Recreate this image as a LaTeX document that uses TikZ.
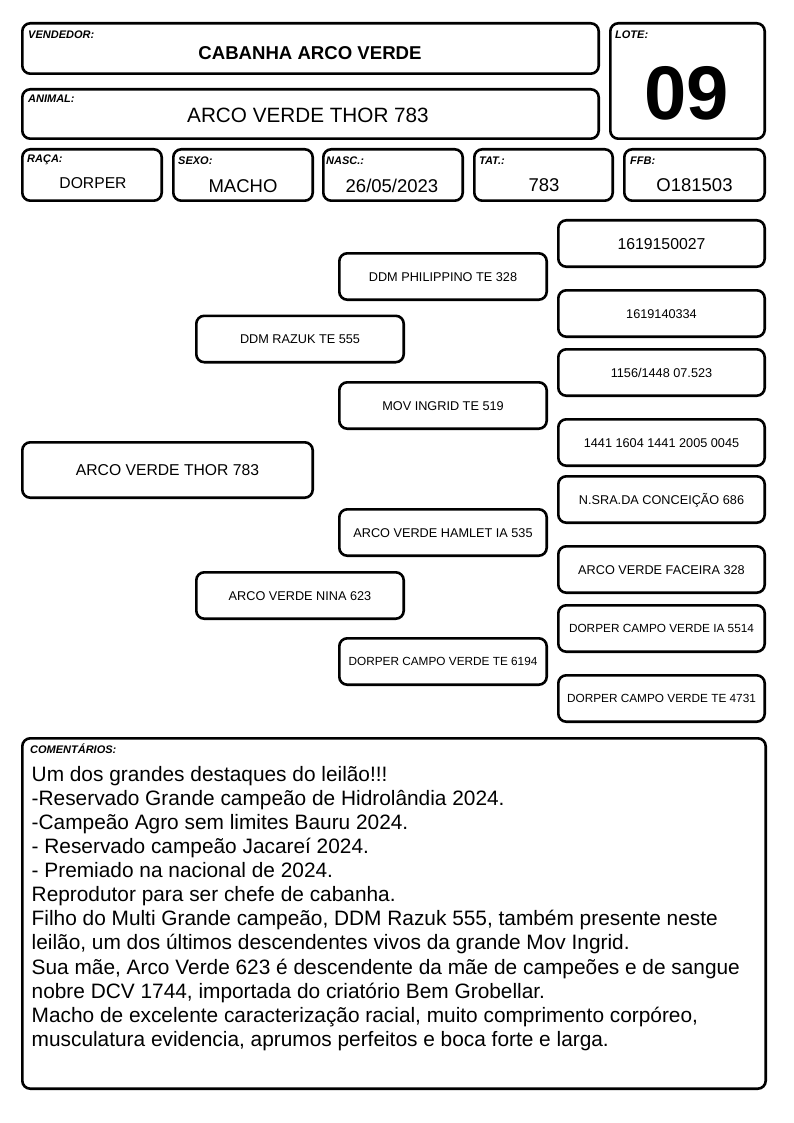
\documentclass[tikz,border=0pt]{standalone}
\usepackage{fontspec}
\setmainfont{Liberation Sans}
\newcommand\myfs[1]{\fontsize{#1}{#1}\selectfont}
\begin{document}
\begin{tikzpicture}[x=1pt,y=-1pt,
  box/.style={draw, line width=2.6pt, rounded corners=8pt, inner sep=0pt},
  lbl/.style={anchor=base west, inner sep=0pt, font=\myfs{11}\bfseries\itshape},
  val/.style={anchor=base, inner sep=0pt, font=\myfs{18.5}},
  pnode/.style={box, minimum width=207.4pt, minimum height=46.4pt, font=\myfs{12.7}, text height=9.1pt, text depth=0pt},
  pbig/.style={pnode, font=\myfs{15.8}, text height=11.3pt},
  psmall/.style={pnode, font=\myfs{11.8}, text height=8.45pt}
]
\useasboundingbox[fill=white] (0,0) rectangle (794,1123);

% header boxes
\node[box, minimum width=576.4pt, minimum height=50.4pt] (vend) at (310.5,48.5) {};
\node[box, minimum width=576.4pt, minimum height=49.4pt] (anim) at (310.5,114) {};
\node[box, minimum width=154.4pt, minimum height=115.4pt] (lote) at (687.5,81) {};
\node[box, minimum width=139.4pt, minimum height=51.4pt] (raca) at (92,175) {};
\node[box, minimum width=139.4pt, minimum height=51.4pt] (sexo) at (243,175) {};
\node[box, minimum width=139.4pt, minimum height=51.4pt] (nasc) at (393,175) {};
\node[box, minimum width=138.4pt, minimum height=51.4pt] (tat) at (543.5,175) {};
\node[box, minimum width=140.4pt, minimum height=51.4pt] (ffb) at (694.5,175) {};

% labels
\node[lbl] (lvend) at (28,39) {VENDEDOR:};
\node[lbl] (lanim) at (28,103) {ANIMAL:};
\node[lbl] (llote) at (615,39) {LOTE:};
\node[lbl] (lraca) at (27,163) {RAÇA:};
\node[lbl] (lsexo) at (178,165) {SEXO:};
\node[lbl] (lnasc) at (326,165) {NASC.:};
\node[lbl] (ltat) at (479,165) {TAT.:};
\node[lbl] (lffb) at (630,165) {FFB:};

% values
\node[anchor=base, inner sep=0pt, font=\myfs{18.6}\bfseries] (vvend) at (310,60) {CABANHA ARCO VERDE};
\node[anchor=base, inner sep=0pt, font=\myfs{20.7}] (vanim) at (308,123) {ARCO VERDE THOR 783};
\node[anchor=base, inner sep=0pt, font=\myfs{76}\bfseries] (vlote) at (687,119.5) {09};
\node[val, font=\myfs{15.7}] (vraca) at (93,188.5) {DORPER};
\node[val] (vsexo) at (243,192.5) {MACHO};
\node[val] (vnasc) at (392,193) {26/05/2023};
\node[val] (vtat) at (544,192) {783};
\node[val] (vffb) at (694.5,192) {O181503};

% pedigree
\node[pnode, minimum width=290.4pt, minimum height=55.4pt, font=\myfs{15.7}, text height=11.2pt] (main) at (167.5,470) {ARCO VERDE THOR 783};
\node[pnode] (sire) at (300,339) {DDM RAZUK TE 555};
\node[pnode] (dam) at (300,595.5) {ARCO VERDE NINA 623};
\node[pnode] (ss) at (443,276.5) {DDM PHILIPPINO TE 328};
\node[pnode] (sd) at (443,405.5) {MOV INGRID TE 519};
\node[pnode] (ds) at (443,532.5) {ARCO VERDE HAMLET IA 535};
\node[psmall] (dd) at (443,661.5) {DORPER CAMPO VERDE TE 6194};
\node[pbig, minimum width=206.4pt] (sss) at (661.5,243.5) {1619150027};
\node[pnode, minimum width=206.4pt] (ssd) at (661.5,313.5) {1619140334};
\node[pnode, minimum width=206.4pt] (sds) at (661.5,372.5) {1156/1448 07.523};
\node[pnode, minimum width=206.4pt] (sdd) at (661.5,442.5) {1441 1604 1441 2005 0045};
\node[pnode, minimum width=206.4pt] (dss) at (661.5,499.5) {N.SRA.DA CONCEIÇÃO 686};
\node[pnode, minimum width=206.4pt] (dsd) at (661.5,569.5) {ARCO VERDE FACEIRA 328};
\node[psmall, minimum width=206.4pt] (dds) at (661.5,628.5) {DORPER CAMPO VERDE IA 5514};
\node[psmall, minimum width=206.4pt] (ddd) at (661.5,698.5) {DORPER CAMPO VERDE TE 4731};

% comments
\node[box, minimum width=743.4pt, minimum height=350.4pt] (com) at (394,913.5) {};
\node[lbl] (lcom) at (30,753) {COMENTÁRIOS:};
\node[anchor=north west, inner sep=0pt, align=left, font=\fontsize{20.85}{24.1}\selectfont] (ctext) at (31.5,765) {\rule{0pt}{16pt}Um dos grandes destaques do leilão!!!\\
-Reservado Grande campeão de Hidrolândia 2024.\\
-Campeão Agro sem limites Bauru 2024.\\
- Reservado campeão Jacareí 2024.\\
- Premiado na nacional de 2024.\\
Reprodutor para ser chefe de cabanha.\\
Filho do Multi Grande campeão, DDM Razuk 555, também presente neste\\
leilão, um dos últimos descendentes vivos da grande Mov Ingrid.\\
Sua mãe, Arco Verde 623 é descendente da mãe de campeões e de sangue\\
nobre DCV 1744, importada do criatório Bem Grobellar.\\
Macho de excelente caracterização racial, muito comprimento corpóreo,\\
musculatura evidencia, aprumos perfeitos e boca forte e larga.};
\end{tikzpicture}
\end{document}
